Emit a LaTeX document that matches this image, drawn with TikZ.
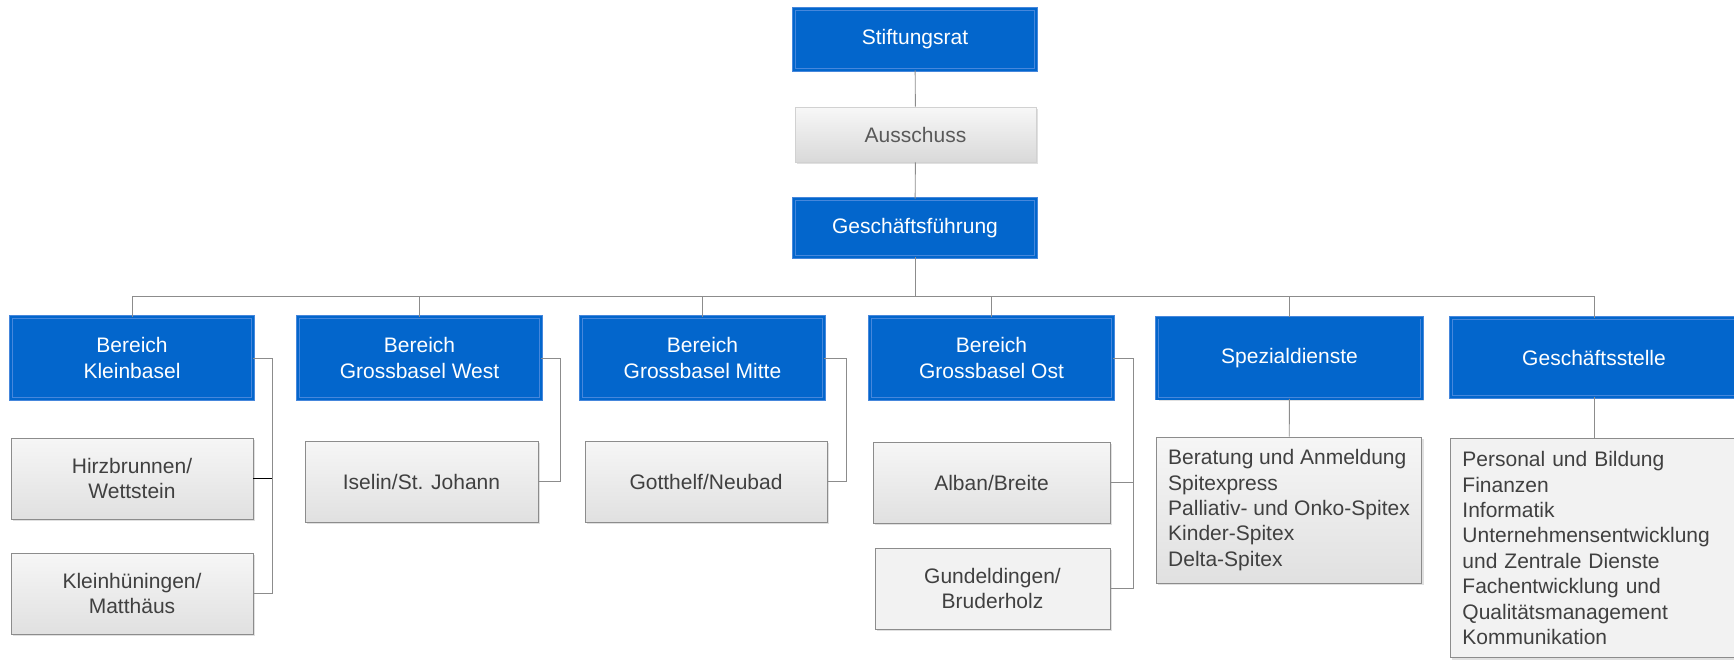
\documentclass[tikz,border=0pt]{standalone}
\usepackage{fontspec}
\setmainfont{Liberation Sans}
\usetikzlibrary{shadows}
\definecolor{orgblue}{RGB}{3,102,204}
\definecolor{orgrim}{RGB}{70,135,220}
\definecolor{orgline}{RGB}{140,140,140}
\definecolor{orgtext}{RGB}{64,64,64}
\begin{document}
\begin{tikzpicture}[x=1pt,y=-1pt,
  every node/.style={font=\fontsize{21}{25.4}\selectfont},
  boxshadow/.style={drop shadow={shadow xshift=2pt,shadow yshift=-2pt,fill=black!30,opacity=.4}},
  bluebox/.style={rectangle, boxshadow, fill=orgblue, draw=orgrim, double=orgblue, double distance=2pt, line width=.7pt, text=white, align=center, inner sep=0pt},
  unitbox/.style={rectangle, boxshadow, top color=gray!7, bottom color=gray!24, draw=orgline, line width=.8pt, text=orgtext, align=center, inner sep=0pt},
  flatbox/.style={rectangle, boxshadow, fill=gray!10, draw=orgline, line width=.8pt, text=orgtext, align=center, inner sep=0pt},
  wire/.style={draw=orgline, line width=.9pt}]
\useasboundingbox (0,0) rectangle (1734,659);
\clip (0,0) rectangle (1734,659);

\node[bluebox, minimum width=242, minimum height=61] (rat) at (915,39.5){Stiftungsrat};
\node[unitbox, top color=black!3, bottom color=black!15, draw=black!18, text=black!65, minimum width=241, minimum height=55] (aus) at (915.5,134.5){Ausschuss};
\node[bluebox, minimum width=242, minimum height=58] (gf) at (915,228){Geschäftsführung};
\coordinate (bus) at (915,296);
\draw[wire](rat) -- (aus);
\draw[wire](aus) -- (gf);
\draw[wire](gf) -- (bus);

\node[bluebox, minimum width=242, minimum height=82] (kb) at (132,358){Bereich\\Kleinbasel};
\node[unitbox, minimum width=242, minimum height=81] (hw) at (132,478.5){Hirzbrunnen/\\Wettstein};
\node[unitbox, minimum width=242, minimum height=81] (km) at (132,593.5){Kleinhüningen/\\Matthäus};
\coordinate (kbr) at (272,358);
\draw[wire](kb.north) |- (bus);
\draw[wire](kb.east) -- (kbr) |- (km.east);
\draw[line width=.9pt](hw.east) -- (hw.east -| kbr);

\node[bluebox, minimum width=243, minimum height=82] (gw) at (419.5,358){Bereich\\Grossbasel West};
\node[unitbox, minimum width=233, minimum height=81] (is) at (421.5,481.5){Iselin/St. Johann};
\coordinate (gwr) at (560,358);
\draw[wire](gw.north) |- (bus);
\draw[wire](gw.east) -- (gwr) |- (is.east);

\node[bluebox, minimum width=243, minimum height=82] (gm) at (702.5,358){Bereich\\Grossbasel Mitte};
\node[unitbox, minimum width=242, minimum height=81] (gn) at (706,481.5){Gotthelf/Neubad};
\coordinate (gmr) at (846,358);
\draw[wire](gm.north) |- (bus);
\draw[wire](gm.east) -- (gmr) |- (gn.east);

\node[bluebox, minimum width=243, minimum height=82] (go) at (991.5,358){Bereich\\Grossbasel Ost};
\node[unitbox, minimum width=237, minimum height=81] (ab) at (991.5,482.5){Alban/Breite};
\node[flatbox, minimum width=235, minimum height=81] (gb) at (992.5,588.5){Gundeldingen/\\Bruderholz};
\coordinate (gor) at (1133,358);
\draw[wire](go.north) |- (bus);
\draw[wire](go.east) -- (gor) |- (gb.east);
\draw[wire](ab.east) -- (ab.east -| gor);

\node[bluebox, minimum width=265, minimum height=81] (sd) at (1289.5,358){Spezialdienste};
\node[unitbox, align=left, inner xsep=12, minimum width=264, minimum height=146] (sl) at (1289,510){Beratung und Anmeldung\\Spitexpress\\Palliativ- und Onko-Spitex\\Kinder-Spitex\\Delta-Spitex};
\draw[wire](sd.north) |- (bus);
\draw[wire](sd) -- (sl);

\node[bluebox, minimum width=286, minimum height=79] (gs) at (1594,357.5){Geschäftsstelle};
\node[flatbox, align=left, anchor=north west, text width=290, inner xsep=12, inner ysep=13] (gl) at (1450,438){Personal und Bildung\\Finanzen\\Informatik\\Unternehmensentwicklung\\und Zentrale Dienste\\Fachentwicklung und\\Qualitätsmanagement\\Kommunikation};
\draw[wire](gs.north) |- (bus);
\draw[wire](gs.south) -- (gs.south |- gl.north);

\end{tikzpicture}
\end{document}
